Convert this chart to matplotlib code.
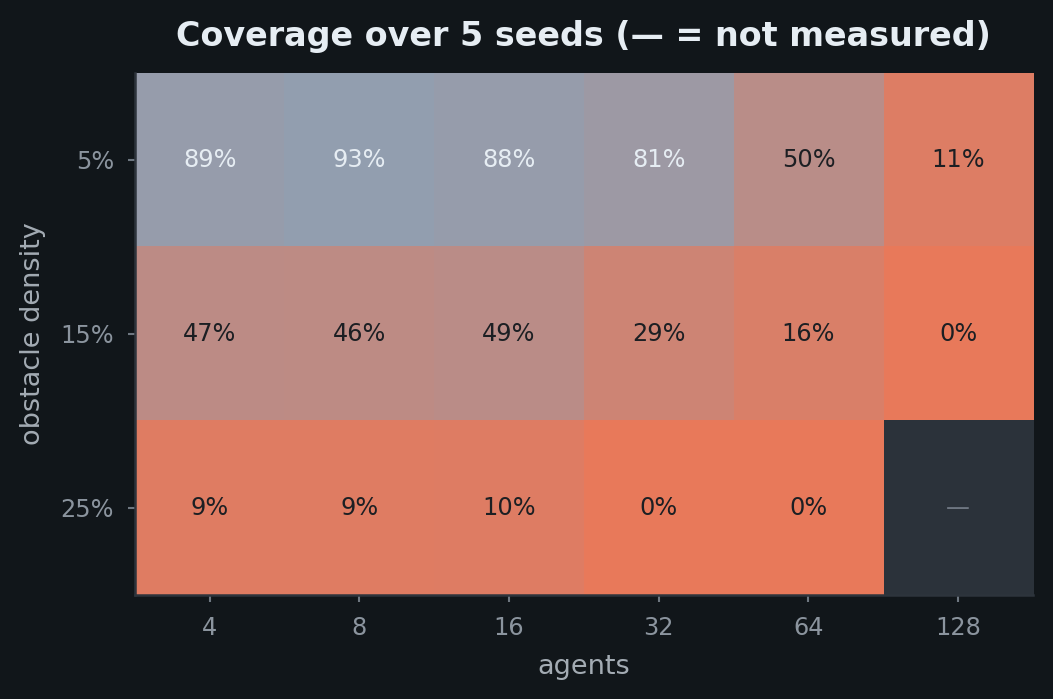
import numpy as np
import matplotlib
matplotlib.use("Agg")
import matplotlib.pyplot as plt
from matplotlib.colors import LinearSegmentedColormap

agents = ["4", "8", "16", "32", "64", "128"]
densities = ["5%", "15%", "25%"]
coverage_5 = [0.89, 0.93, 0.88, 0.81, 0.50, 0.11]
coverage_15 = [0.47, 0.46, 0.49, 0.29, 0.16, 0.00]
coverage_25 = [0.09, 0.09, 0.10, 0.00, 0.00, np.nan]

bg = "#11161a"
spine_c = "#2d343c"
tick_c = "#8b949e"
label_c = "#a3abb3"
title_c = "#e6edf3"

data = np.ma.masked_invalid(np.array([coverage_5, coverage_15, coverage_25]))

cmap = LinearSegmentedColormap.from_list("cov", ["#e8795a", "#8ca1b6"])
cmap.set_bad("#2b323a")

fig = plt.figure(figsize=(7.02, 4.66), dpi=150, facecolor=bg)
ax = fig.add_axes([0.128, 0.149, 0.853, 0.747])
ax.set_facecolor(bg)
ax.imshow(data, cmap=cmap, vmin=0, vmax=1, aspect="auto", interpolation="nearest")

for i in range(data.shape[0]):
    for j in range(data.shape[1]):
        v = data[i, j]
        if np.ma.is_masked(v):
            ax.text(j, i, "—", ha="center", va="center", color="#6e7681", fontsize=11.5)
        else:
            c = "#e6edf3" if v >= 0.6 else "#1c1f23"
            ax.text(j, i, f"{v*100:.0f}%", ha="center", va="center", color=c, fontsize=11.5)

ax.set_xticks(range(len(agents)))
ax.set_xticklabels(agents)
ax.set_yticks(range(len(densities)))
ax.set_yticklabels(densities)
ax.tick_params(colors="#6e7781", labelcolor=tick_c, labelsize=11.5, length=3.5, width=1, pad=6.5)
ax.set_xlabel("agents", color=label_c, fontsize=13, labelpad=7)
ax.set_ylabel("obstacle density", color=label_c, fontsize=13, labelpad=7)
ax.set_title("Coverage over 5 seeds (— = not measured)", color=title_c,
             fontsize=16, fontweight="bold", pad=13)

for side in ["top", "right"]:
    ax.spines[side].set_visible(False)
for side in ["left", "bottom"]:
    ax.spines[side].set_color(spine_c)
    ax.spines[side].set_linewidth(1.2)

plt.savefig("out.png", dpi=150, facecolor=bg)
